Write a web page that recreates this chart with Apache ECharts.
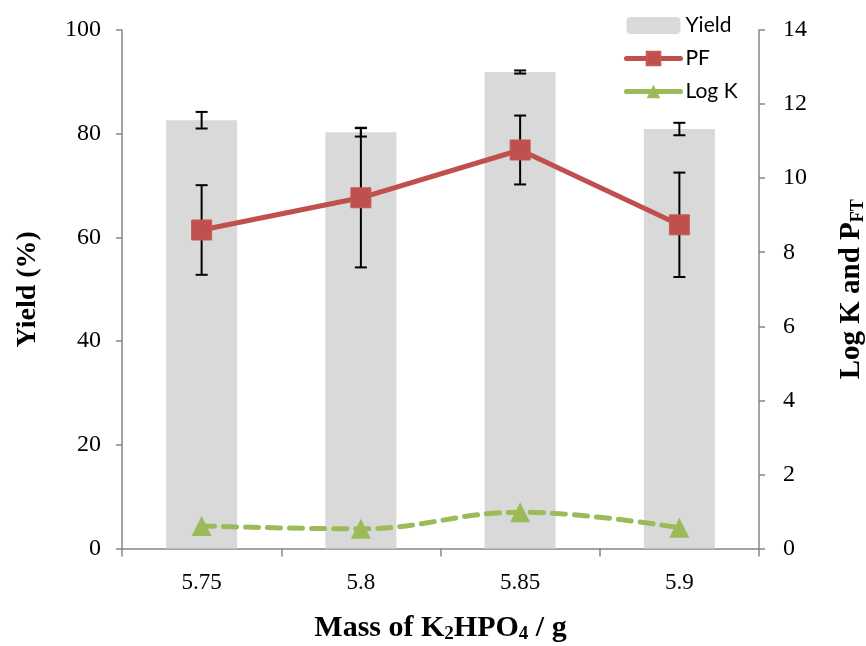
<!DOCTYPE html>
<html>
<head>
<meta charset="utf-8">
<script src="https://cdn.jsdelivr.net/npm/echarts@6/dist/echarts.min.js"></script>
<style>
  html, body {margin: 0; padding: 0; background: #fff;}
  #chart {width: 866px; height: 646px;}
</style>
</head>
<body>
<div id="chart"></div>
<script>
const categories = ['5.75', '5.8', '5.85', '5.9']
const yieldVals = [82.6, 80.3, 91.9, 80.9]
const yieldErr = [1.6, 0.85, 0.3, 1.2]
const pfVals = [8.6, 9.47, 10.76, 8.74]
const pfErr = [1.21, 1.88, 0.93, 1.41]
const logK = [0.61, 0.53, 0.98, 0.56]
const leftTicks = [0, 20, 40, 60, 80, 100]
const rightTicks = [0, 2, 4, 6, 8, 10, 12, 14]

const serif = '"Liberation Serif", "Times New Roman", serif'
const axisGrey = '#868686'

// error bar drawing, cap width in px
const errorBar = (api) => {
  const idx = api.value(0)
  const v = api.value(1)
  const e = api.value(2)
  const hi = api.coord([idx, v + e])
  const lo = api.coord([idx, v - e])
  const cap = 6
  const style = {stroke: '#000', lineWidth: 2}
  return {
    type: 'group',
    children: [
      {type: 'line', shape: {x1: hi[0], y1: hi[1], x2: lo[0], y2: lo[1]}, style},
      {type: 'line', shape: {x1: hi[0] - cap, y1: hi[1], x2: hi[0] + cap, y2: hi[1]}, style},
      {type: 'line', shape: {x1: lo[0] - cap, y1: lo[1], x2: lo[0] + cap, y2: lo[1]}, style}
    ]
  }
}

const chart = echarts.init(document.getElementById('chart'))
chart.setOption({
  animation: false,
  grid: {left: 122, right: 107, top: 30, bottom: 97.5, containLabel: false, outerBoundsMode: 'none'},
  legend: {
    data: [
      {name: 'Yield'},
      {name: 'PF', lineStyle: {width: 5, cap: 'round'}},
      {name: 'Log K', lineStyle: {width: 5, type: 'solid', cap: 'round'}}
    ],
    orient: 'vertical',
    left: 619,
    top: 10,
    itemWidth: 54,
    itemHeight: 17,
    itemGap: 12,
    textStyle: {fontFamily: 'Lato', fontSize: 21, color: '#000'}
  },
  xAxis: {
    type: 'category',
    data: categories,
    boundaryGap: true,
    axisLine: {lineStyle: {color: axisGrey, width: 1.5}},
    axisTick: {show: true, length: 8, lineStyle: {color: axisGrey, width: 1.5}},
    axisLabel: {margin: 23, fontFamily: serif, fontSize: 23, color: '#000'},
    name: 'Mass of K{s|2}HPO{s|4} / g',
    nameLocation: 'middle',
    nameGap: 64,
    nameTextStyle: {
      fontFamily: serif, fontSize: 30, fontWeight: 'bold', color: '#000',
      rich: {s: {fontFamily: serif, fontSize: 19, fontWeight: 'bold', color: '#000', verticalAlign: 'bottom', padding: [12, 0, 0, 0]}}
    }
  },
  yAxis: [
    {
      type: 'value',
      min: leftTicks[0],
      max: leftTicks[leftTicks.length - 1],
      interval: leftTicks[1] - leftTicks[0],
      position: 'left',
      splitLine: {show: false},
      axisLine: {show: true, lineStyle: {color: axisGrey, width: 1.5}},
      axisTick: {show: true, length: 6, lineStyle: {color: axisGrey, width: 1.5}},
      axisLabel: {margin: 21, fontFamily: serif, fontSize: 24, color: '#000'},
      name: 'Yield (%)',
      nameLocation: 'middle',
      nameGap: 80,
      nameTextStyle: {fontFamily: serif, fontSize: 28, fontWeight: 'bold', color: '#000'}
    },
    {
      type: 'value',
      min: rightTicks[0],
      max: rightTicks[rightTicks.length - 1],
      interval: rightTicks[1] - rightTicks[0],
      position: 'right',
      splitLine: {show: false},
      axisLine: {show: true, lineStyle: {color: axisGrey, width: 1.5}},
      axisTick: {show: true, length: 6, lineStyle: {color: axisGrey, width: 1.5}},
      axisLabel: {margin: 24, fontFamily: serif, fontSize: 24, color: '#000'},
      name: 'Log K and P{s|FT}',
      nameLocation: 'middle',
      nameGap: 78,
      nameTextStyle: {
        fontFamily: serif, fontSize: 29, fontWeight: 'bold', color: '#000',
        rich: {s: {fontFamily: serif, fontSize: 18, fontWeight: 'bold', color: '#000', verticalAlign: 'bottom', padding: [12, 0, 0, 0]}}
      }
    }
  ],
  series: [
    {
      name: 'Yield',
      type: 'bar',
      data: yieldVals,
      barWidth: '44.6%',
      itemStyle: {color: '#D9D9D9'},
      z: 1
    },
    {
      name: 'yieldErr',
      type: 'custom',
      renderItem: (params, api) => errorBar(api),
      data: yieldVals.map((v, i) => [i, v, yieldErr[i]]),
      encode: {x: 0, y: 1},
      z: 2
    },
    {
      name: 'pfErr',
      type: 'custom',
      yAxisIndex: 1,
      renderItem: (params, api) => errorBar(api),
      data: pfVals.map((v, i) => [i, v, pfErr[i]]),
      encode: {x: 0, y: 1},
      z: 2
    },
    {
      name: 'PF',
      type: 'line',
      yAxisIndex: 1,
      data: pfVals,
      symbol: 'rect',
      symbolSize: 20,
      lineStyle: {color: '#C0504D', width: 5},
      itemStyle: {color: '#C0504D', borderColor: '#C45A57', borderWidth: 1},
      z: 3
    },
    {
      name: 'Log K',
      type: 'line',
      yAxisIndex: 1,
      data: logK,
      smooth: 0.4,
      symbol: 'triangle',
      symbolSize: 20,
      lineStyle: {color: '#9BBB59', width: 5, type: [13, 9], cap: 'round'},
      itemStyle: {color: '#9BBB59'},
      z: 3
    }
  ]
})
</script>
</body>
</html>
